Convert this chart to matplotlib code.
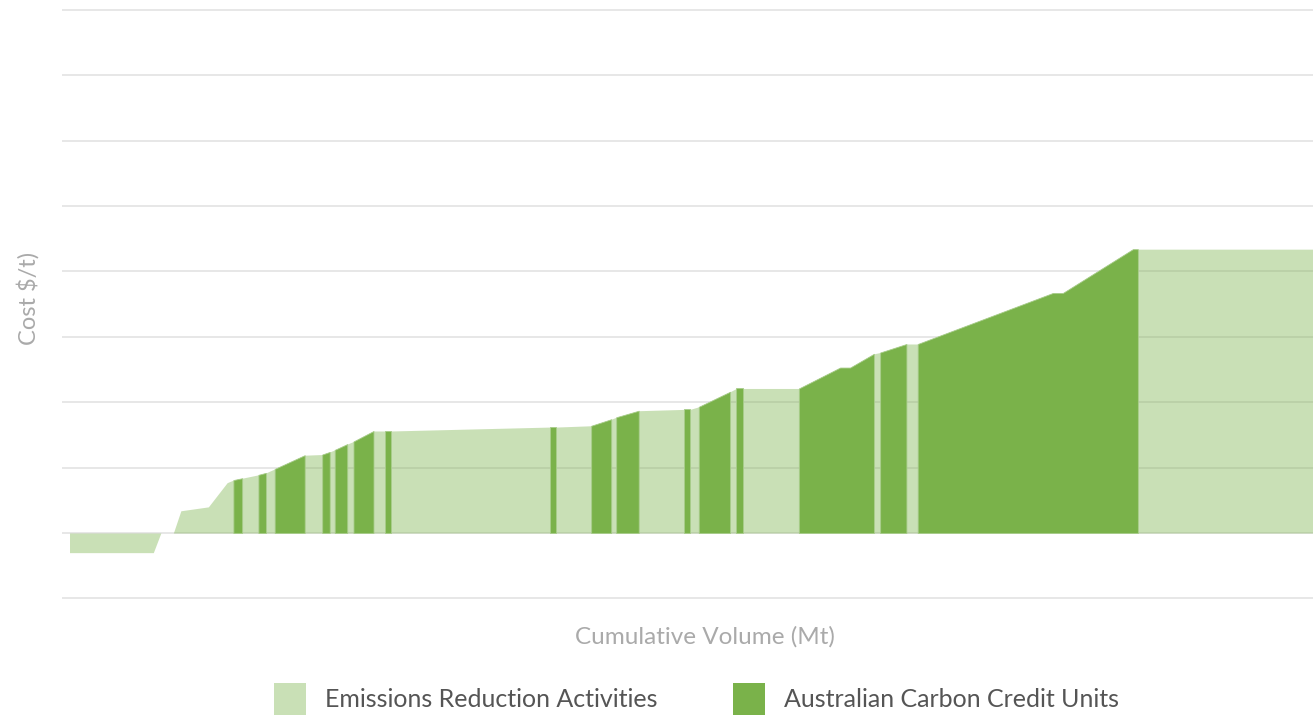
import matplotlib
matplotlib.use("Agg")
import matplotlib.pyplot as plt
from matplotlib.patches import Patch
import numpy as np

# cost curve: cumulative volume (Mt) and cost ($/t) at the break points
curve_vol = [0.6, 7.3, 7.9, 8.9, 9.5, 11.7, 13.2, 13.7, 15.7, 16.3, 17.0, 19.4,
             20.8, 21.4, 21.9, 22.8, 23.3, 24.9, 26.3, 39.0, 39.5, 42.3, 43.9,
             44.3, 46.1, 49.7, 50.2, 50.9, 53.4, 53.9, 58.9, 62.2, 63.0, 64.9,
             65.4, 67.5, 68.4, 79.2, 80.0, 85.6, 100.0]
curve_cost = [-3.0, -3.0, 0.0, 0.0, 3.4, 4.0, 7.7, 8.1, 8.9, 9.2, 9.8, 11.9,
              12.0, 12.4, 12.8, 13.6, 14.0, 15.6, 15.6, 16.2, 16.2, 16.4, 17.4,
              17.7, 18.7, 18.9, 18.9, 19.3, 21.6, 22.1, 22.1, 25.3, 25.3, 27.4,
              27.6, 28.9, 28.9, 36.7, 36.7, 43.4, 43.4]

# volume ranges supplied by ACCUs (everything else is emissions reduction activities)
accu_start = [13.7, 15.7, 17.0, 20.8, 21.8, 23.3, 25.8, 39.0, 42.3, 44.3, 49.7,
              50.9, 53.9, 58.9, 65.4, 68.4]
accu_end = [14.4, 16.3, 19.4, 21.4, 22.8, 24.9, 26.3, 39.5, 43.9, 46.1, 50.2,
            53.4, 54.4, 64.9, 67.5, 86.0]

series_names = ["Emissions Reduction Activities", "Australian Carbon Credit Units"]

GREEN = "#7ab24a"
LIGHT = (0x7a / 255, 0xb2 / 255, 0x4a / 255, 0.4)

plt.rcParams["font.family"] = ["Lato", "DejaVu Sans"]

fig = plt.figure(figsize=(13.13, 7.16), dpi=100)
ax = fig.add_axes([62 / 1313, 1 - 601.7 / 716, 1 - 62 / 1313, 595.2 / 716])

vol = np.array(curve_vol)
cost = np.array(curve_cost)

# light base area under whole curve
ax.fill_between(vol, 0, cost, color=LIGHT, linewidth=0, zorder=2)

# ACCU blocks on top
for s, e in zip(accu_start, accu_end):
    inner = vol[(vol > s) & (vol < e)]
    xs = np.concatenate([[s], inner, [e]])
    ys = np.interp(xs, vol, cost)
    ax.fill_between(xs, 0, ys, color=GREEN, linewidth=0.6,
                    edgecolor="#a9cd8c", zorder=3)

ax.set_xlim(0, 100)
ax.set_ylim(-10.5, 80.5)
ax.set_yticks(np.arange(-10, 81, 10))
ax.set_xticks([])
ax.grid(axis="y", color="#e3e3e3", linewidth=1.2)
ax.set_axisbelow(True)
ax.tick_params(axis="y", length=0, labelleft=False)
for sp in ax.spines.values():
    sp.set_visible(False)

ax.set_ylabel("Cost $/t)", fontsize=17, color="#aaaaaa")
ax.yaxis.set_label_coords(-0.0176, 0.51)
ax.set_xlabel("Cumulative Volume (Mt)", fontsize=17.5, color="#aaaaaa")
ax.xaxis.set_label_coords(0.514, -0.041)

handles = [Patch(facecolor=LIGHT, edgecolor="none"),
           Patch(facecolor=GREEN, edgecolor="none")]
fig.legend(handles, series_names, loc="center", bbox_to_anchor=(696.5 / 1313, 1 - 699 / 716),
           ncol=2, frameon=False, fontsize=18, handlelength=1.28, handleheight=1.55,
           handletextpad=0.77, columnspacing=3.04, borderpad=0, labelcolor="#555555")

fig.savefig("out.png", dpi=100)
